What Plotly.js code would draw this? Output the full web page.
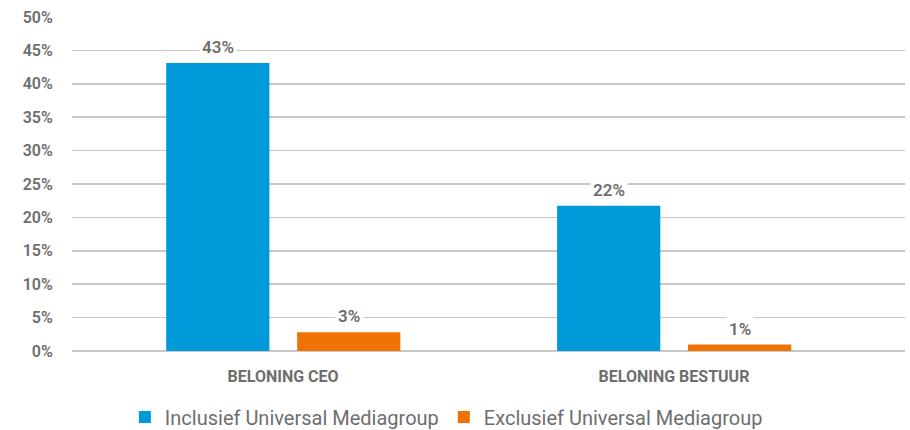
<!DOCTYPE html>
<html>
<head>
<meta charset="utf-8">
<script src="https://cdn.plot.ly/plotly-3.0.1.min.js"></script>
<style>html,body{margin:0;padding:0;background:#fff}#chart{width:910px;height:430px}</style>
</head>
<body>
<div id="chart"></div>
<script>
var categories = ["BELONING CEO", "BELONING BESTUUR"];
var seriesNames = ["Inclusief Universal Mediagroup", "Exclusief Universal Mediagroup"];
var inclusief = [0.431, 0.2175];
var exclusief = [0.028, 0.0097];
var yTickVals = [0, 0.05, 0.10, 0.15, 0.20, 0.25, 0.30, 0.35, 0.40, 0.45, 0.50];
var yTickText = ["0%", "5%", "10%", "15%", "20%", "25%", "30%", "35%", "40%", "45%", "50%"];

var colors = ["#009ADA", "#EF7205"];
var gray = "#6e6e6e";
var fontFam = "Roboto, 'Open Sans', sans-serif";
var barW = 0.264;
var offsets = [-0.299, 0.036];
var seriesVals = [inclusief, exclusief];

var traces = seriesVals.map(function (vals, i) {
  return {
    type: "bar",
    name: seriesNames[i],
    x: categories,
    y: vals,
    width: barW,
    offset: offsets[i],
    marker: {color: colors[i]},
    hoverinfo: "skip"
  };
});

var annotations = [];
seriesVals.forEach(function (vals, i) {
  vals.forEach(function (v, j) {
    annotations.push({
      x: j + offsets[i] + barW / 2,
      y: v,
      xref: "x", yref: "y",
      text: Math.round(v * 100) + "%",
      showarrow: false,
      yanchor: "bottom",
      yshift: 3,
      bgcolor: "#ffffff",
      borderpad: 2,
      font: {family: fontFam, size: 17, color: gray, weight: 600}
    });
  });
});

var layout = {
  width: 910, height: 430,
  margin: {l: 72, r: 5, t: 17, b: 79},
  paper_bgcolor: "#fff", plot_bgcolor: "#fff",
  barmode: "group",
  showlegend: true,
  legend: {
    orientation: "h", xref: "container", yref: "container",
    x: 0.4905, xanchor: "center", y: 0.03, yanchor: "middle",
    font: {family: fontFam, size: 20, color: gray},
    itemclick: false, itemdoubleclick: false
  },
  xaxis: {
    type: "category",
    range: [-0.54, 1.591],
    showgrid: false, zeroline: false, showline: false,
    ticks: "outside", ticklen: 11, tickcolor: "rgba(0,0,0,0)",
    tickfont: {family: fontFam, size: 16, color: gray, weight: 700},
    automargin: false,
    fixedrange: true
  },
  yaxis: {
    range: [0, 0.5],
    tickvals: yTickVals, ticktext: yTickText,
    showgrid: true, gridcolor: "#c8c8c8", gridwidth: 1.5,
    zeroline: true, zerolinecolor: "#c8c8c8", zerolinewidth: 1.5,
    showline: false,
    ticks: "outside", ticklen: 15, tickcolor: "rgba(0,0,0,0)",
    tickfont: {family: fontFam, size: 16, color: gray, weight: 600},
    automargin: false,
    fixedrange: true
  },
  annotations: annotations
};

Plotly.newPlot("chart", traces, layout, {displayModeBar: false, staticPlot: true});
</script>
</body>
</html>
